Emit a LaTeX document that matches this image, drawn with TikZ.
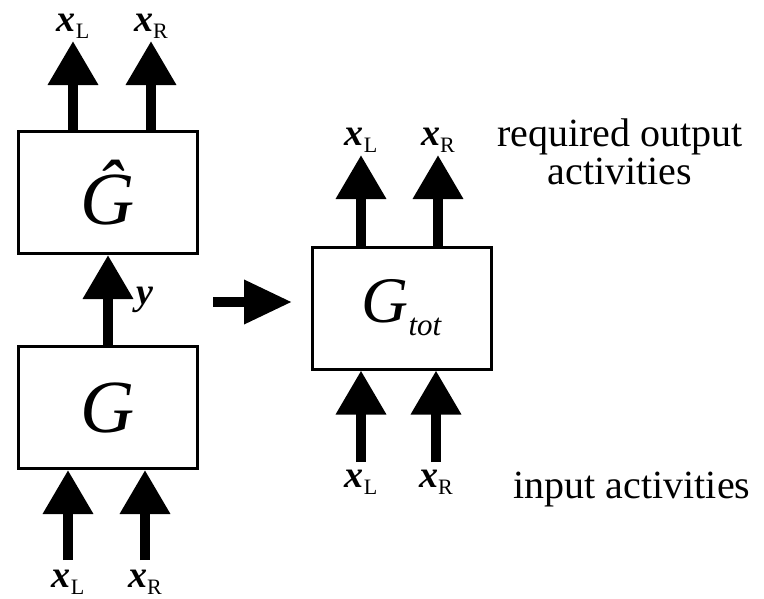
\documentclass[tikz,border=0pt]{standalone}
\usepackage{fontspec}
\setmainfont{Liberation Serif}
\usetikzlibrary{arrows.meta}
\newcommand{\xsub}[1]{{\bfseries\itshape x}\raisebox{-7pt}{\fontsize{22}{22}\selectfont #1}}
\tikzset{
  blk/.style={draw,line width=3pt,minimum width=179pt,minimum height=122pt,inner sep=0pt},
  fat/.style={line width=10pt,-{Triangle[width=48pt,length=44pt]}},
  lab/.style={inner sep=2pt,font=\fontsize{38}{38}\selectfont},
  note/.style={align=center,font=\fontsize{40}{38}\selectfont}
}
\begin{document}
\begin{tikzpicture}[x=1pt,y=-1pt]
\useasboundingbox (0,0) rectangle (764,598);
% left: G followed by G-hat
\node[blk,font=\fontsize{75}{75}\selectfont\itshape] (ghat) at (108,192.5) {\^{G}};
\node[blk,font=\fontsize{75}{75}\selectfont\itshape] (g) at (108,407.5) {G};
\node[lab,anchor=south] (hL) at (73,41) {\xsub{L}};
\node[lab,anchor=south] (hR) at (151,41) {\xsub{R}};
\node[lab,anchor=north] (gL) at (68,568) {\xsub{L}};
\node[lab,anchor=north] (gR) at (145,568) {\xsub{R}};
\node[lab] (ylab) at (145,300) {\bfseries\itshape y};
\draw[fat] (ghat.north -| hL) -- (hL.south);
\draw[fat] (ghat.north -| hR) -- (hR.south);
\draw[fat] (g.north) -- (ghat.south);
\draw[fat,shorten <=8pt] (gL.north) -- (g.south -| gL);
\draw[fat,shorten <=8pt] (gR.north) -- (g.south -| gR);
% equivalent single network
\coordinate (m0) at (213,302);
\coordinate (m1) at (292,302);
\draw[line width=10pt,-{Triangle[width=42pt,length=48pt]}] (m0) -- (m1);
\node[blk,font=\fontsize{65}{65}\selectfont\itshape] (gtot) at (401.5,308)
  {G\raisebox{-13pt}{\fontsize{31}{31}\selectfont tot}};
\node[lab,anchor=south] (tL) at (361,155) {\xsub{L}};
\node[lab,anchor=south] (tR) at (438,155) {\xsub{R}};
\node[lab,anchor=north] (bL) at (361,468) {\xsub{L}};
\node[lab,anchor=north] (bR) at (436,468) {\xsub{R}};
\draw[fat] (gtot.north -| tL) -- (tL.south);
\draw[fat] (gtot.north -| tR) -- (tR.south);
\draw[fat,shorten <=6pt] (bL.north) -- (gtot.south -| bL);
\draw[fat,shorten <=6pt] (bR.north) -- (gtot.south -| bR);
\node[note] (req) at (620,152) {required output\\activities};
\node[note] (inp) at (632,490) {input activities};
\end{tikzpicture}
\end{document}
